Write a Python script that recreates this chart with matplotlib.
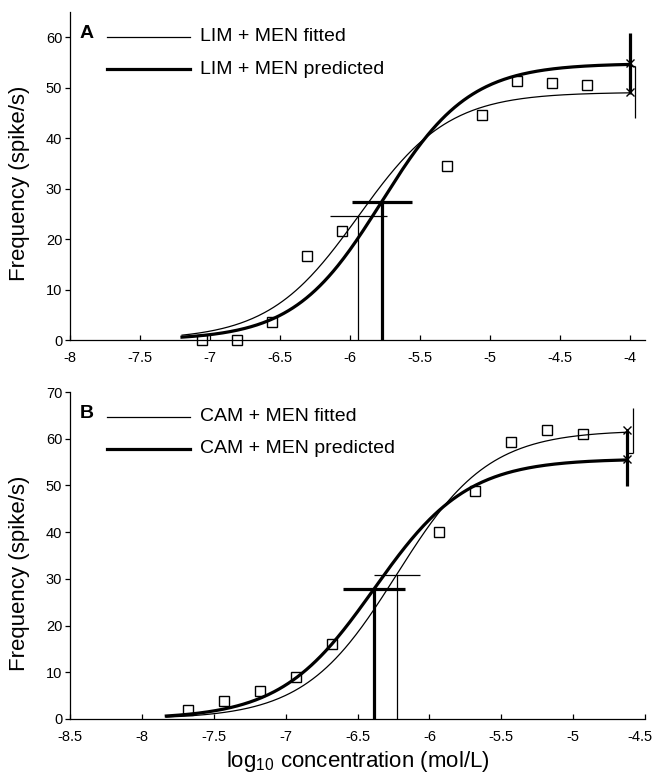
import numpy as np
import matplotlib
matplotlib.use('Agg')
from matplotlib import pyplot as plt
from matplotlib.ticker import FormatStrFormatter
from matplotlib.transforms import ScaledTranslation

plt.rcParams['font.family'] = ['Liberation Sans', 'DejaVu Sans']
plt.rcParams['mathtext.fontset'] = 'custom'
plt.rcParams['mathtext.rm'] = 'Liberation Sans'
plt.rcParams['mathtext.it'] = 'Liberation Sans'
plt.rcParams['axes.unicode_minus'] = False

# Panel A: limonene + menthol
a_conc = [-7.06, -6.81, -6.56, -6.31, -6.06, -5.31, -5.06, -4.81, -4.56, -4.31]
a_freq = [0.0, 0.0, 3.6, 16.7, 21.6, 34.5, 44.6, 51.4, 50.9, 50.5]
a_fit = dict(top=49.1, ec50=-5.94, n=1.35, ec50_err=0.205, top_err=5.1)
a_pred = dict(top=54.8, ec50=-5.774, n=1.39, ec50_err=0.214, top_err=6.1)
a_range = (-7.2, -4.0)
a_labels = ['LIM + MEN fitted', 'LIM + MEN predicted']

# Panel B: camphor + menthol
b_conc = [-7.68, -7.43, -7.18, -6.93, -6.68, -5.93, -5.68, -5.43, -5.18, -4.93]
b_freq = [1.9, 3.9, 6.0, 9.0, 16.1, 40.0, 48.8, 59.2, 61.9, 61.0]
b_fit = dict(top=61.8, ec50=-6.228, n=1.36, ec50_err=0.16, top_err=4.85)
b_pred = dict(top=55.7, ec50=-6.385, n=1.34, ec50_err=0.217, top_err=5.9)
b_range = (-7.83, -4.623)
b_labels = ['CAM + MEN fitted', 'CAM + MEN predicted']

THIN = 0.9
THICK = 2.3


def hill(x, p):
    return p['top'] / (1 + 10 ** ((p['ec50'] - x) * p['n']))


def draw_panel(ax, conc, freq, fit, pred, xr, labels, letter, thin_below):
    x = np.linspace(xr[0], xr[1], 300)
    ax.plot(x, hill(x, fit), color='k', lw=THIN)
    ax.plot(x, hill(x, pred), color='k', lw=THICK)
    ax.plot(conc, freq, 's', mfc='none', mec='k', ms=7, mew=1.0, clip_on=False)

    # EC50 markers with horizontal error bars
    for p, lw in ((fit, THIN), (pred, THICK)):
        half = p['top'] / 2
        ax.vlines(p['ec50'], 0, half, color='k', lw=lw)
        ax.hlines(half, p['ec50'] - p['ec50_err'], p['ec50'] + p['ec50_err'], color='k', lw=lw)

    # Emax error bars at the end of the curves
    xe = xr[1]
    off = 0.037
    ax.vlines(xe, pred['top'] - pred['top_err'], pred['top'] + pred['top_err'], color='k', lw=THICK)
    lo, hi = fit['top'] - fit['top_err'], fit['top'] + fit['top_err']
    ax.vlines(xe + off, lo, hi, color='k', lw=THIN)
    ax.hlines(hi if thin_below else lo, xe, xe + off, color='k', lw=THIN)
    ax.plot([xe, xe], [fit['top'], pred['top']], 'x', color='k', ms=6, mew=1.0)

    # legend drawn by hand
    ax.plot([0.064, 0.209], [0.924, 0.924], color='k', lw=THIN, transform=ax.transAxes, clip_on=False)
    ax.plot([0.064, 0.209], [0.826, 0.826], color='k', lw=THICK, transform=ax.transAxes, clip_on=False)
    ax.text(0.226, 0.924, labels[0], transform=ax.transAxes, va='center', ha='left', fontsize=14)
    ax.text(0.226, 0.826, labels[1], transform=ax.transAxes, va='center', ha='left', fontsize=14)
    ax.text(0.017, 0.935, letter, transform=ax.transAxes, va='center', ha='left',
            fontsize=14, fontweight='bold')

    for s in ('top', 'right'):
        ax.spines[s].set_visible(False)
    for s in ('left', 'bottom'):
        ax.spines[s].set_linewidth(0.9)
    ax.tick_params(axis='x', direction='in', length=3.6, width=0.9, pad=8, labelsize=10.5)
    ax.tick_params(axis='y', direction='out', length=3.6, width=0.9, pad=2, labelsize=10.5)
    ax.xaxis.set_major_formatter(FormatStrFormatter('%g'))


fig = plt.figure(figsize=(6.55, 7.79), dpi=100)
W, H = 655.0, 779.0

axA = fig.add_axes([70 / W, 1 - 340 / H, 575 / W, 328 / H])
draw_panel(axA, a_conc, a_freq, a_fit, a_pred, a_range, a_labels, 'A', True)
axA.set_xlim(-8, -3.893)
axA.set_ylim(0, 65)
axA.set_xticks(np.arange(-8, -3.99, 0.5))
axA.set_yticks(range(0, 61, 10))

axB = fig.add_axes([70 / W, 1 - 719 / H, 575 / W, 327 / H])
draw_panel(axB, b_conc, b_freq, b_fit, b_pred, b_range, b_labels, 'B', False)
axB.set_xlim(-8.5, -4.5)
axB.set_ylim(0, 70)
axB.set_xticks(np.arange(-8.5, -4.49, 0.5))
axB.set_yticks(range(0, 71, 10))

# keep the last tick label of the lower panel inside the figure
fig.canvas.draw()
last = axB.get_xticklabels()[-1]
last.set_horizontalalignment('right')
last.set_transform(last.get_transform() + ScaledTranslation(8 / 100, 0, fig.dpi_scale_trans))

fig.text(20 / W, 1 - 183 / H, 'Frequency (spike/s)', rotation=90, ha='center', va='center', fontsize=16)
fig.text(20 / W, 1 - 573 / H, 'Frequency (spike/s)', rotation=90, ha='center', va='center', fontsize=16)
fig.text(357.5 / W, 1 - 767 / H, 'log$_{10}$ concentration (mol/L)', ha='center', va='baseline', fontsize=16)

fig.savefig('out.png', dpi=100)
